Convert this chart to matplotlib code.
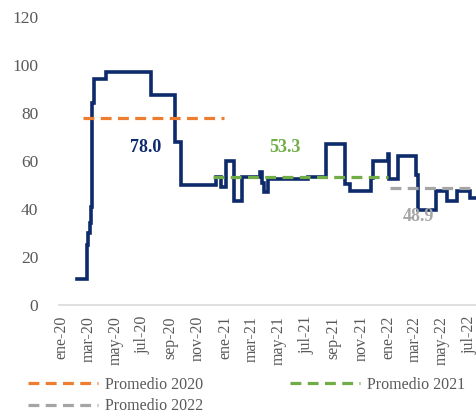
import pandas as pd
import matplotlib
matplotlib.use("Agg")
import matplotlib.pyplot as plt

plt.rcParams['font.family'] = ['Liberation Serif', 'DejaVu Serif']

# step series: date where the level changes, and the level from that date on
step_dates = ['2020-02-05', '2020-02-27', '2020-03-01', '2020-03-05', '2020-03-07',
              '2020-03-09', '2020-03-14', '2020-04-10', '2020-07-19', '2020-09-11',
              '2020-09-24', '2020-12-11', '2020-12-22', '2021-01-02', '2021-01-21',
              '2021-02-08', '2021-03-21', '2021-03-24', '2021-03-30', '2021-04-06',
              '2021-07-06', '2021-08-15', '2021-09-27', '2021-10-08', '2021-11-22',
              '2021-11-28', '2021-12-31', '2022-01-03', '2022-01-23', '2022-03-04',
              '2022-03-08', '2022-04-17', '2022-05-12', '2022-06-03', '2022-07-02',
              '2022-07-18']
step_values = [11, 25, 30, 34, 41,
               84, 94, 97, 87.5, 68,
               50, 53.5, 49, 60, 43.5,
               53.5, 55.5, 51, 47, 52.5,
               53.2, 67, 50.5, 47.7, 53,
               60, 63, 52.5, 62, 54,
               39.5, 47.5, 43.5, 47.5, 44.5,
               44.5]

avg_labels = ['Promedio 2020', 'Promedio 2021', 'Promedio 2022']
avg_values = [78.0, 53.3, 48.9]
avg_start = ['2020-02-19', '2020-12-04', '2022-01-05']
avg_end = ['2020-12-29', '2022-01-01', '2022-07-18']
avg_colors = ['#ED7D31', '#70AD47', '#A5A5A5']
avg_text_pos = [('2020-07-08', 65.5), ('2021-05-14', 65.5), ('2022-03-08', 36.8)]
text_colors = ['#0D2A6B', '#70AD47', '#A5A5A5']

tick_dates = pd.date_range('2020-01-01', '2022-07-01', freq='2MS')
tick_labels = ['ene-20', 'mar-20', 'may-20', 'jul-20', 'sep-20', 'nov-20',
               'ene-21', 'mar-21', 'may-21', 'jul-21', 'sep-21', 'nov-21',
               'ene-22', 'mar-22', 'may-22', 'jul-22']

fig = plt.figure(figsize=(4.77, 4.13), dpi=100)
ax = fig.add_axes([0.124, 0.2615, 0.876, 0.6973])

ax.step(pd.to_datetime(step_dates), step_values, where='post',
        color='#0D2A6B', lw=2.6, solid_joinstyle='miter')

handles = []
for lab, v, s, e, c in zip(avg_labels, avg_values, avg_start, avg_end, avg_colors):
    h, = ax.plot(pd.to_datetime([s, e]), [v, v], color=c, lw=2.3,
                 linestyle=(0, (3.4, 2.0)), label=lab)
    handles.append(h)

for (d, y), v, c in zip(avg_text_pos, avg_values, text_colors):
    ax.text(pd.Timestamp(d), y, f'{v:.1f}', color=c, fontsize=13,
            fontweight='bold', ha='center', va='center')

ax.set_ylim(0, 120)
ax.set_yticks(range(0, 121, 20))
ax.set_xlim(pd.Timestamp('2019-12-27'), pd.Timestamp('2022-07-18'))
ax.set_xticks(tick_dates)
ax.set_xticklabels(tick_labels, rotation=90)
ax.tick_params(axis='y', length=0, pad=15, labelsize=12.5, labelcolor='#595959')
ax.tick_params(axis='x', length=0, pad=8, labelsize=11.5, labelcolor='#595959')

for sp in ['top', 'right', 'left']:
    ax.spines[sp].set_visible(False)
ax.spines['bottom'].set_color('#D9D9D9')
ax.spines['bottom'].set_linewidth(1.2)

fig.legend([handles[0], handles[2], handles[1]],
           [avg_labels[0], avg_labels[2], avg_labels[1]],
           ncol=2, loc='upper left', bbox_to_anchor=(0.058, 0.088),
           frameon=False, fontsize=11.5, labelcolor='#595959',
           handlelength=4.4, handletextpad=0.45, columnspacing=5.4,
           labelspacing=0.35, borderaxespad=0, borderpad=0)

fig.savefig('out.png', dpi=100)
